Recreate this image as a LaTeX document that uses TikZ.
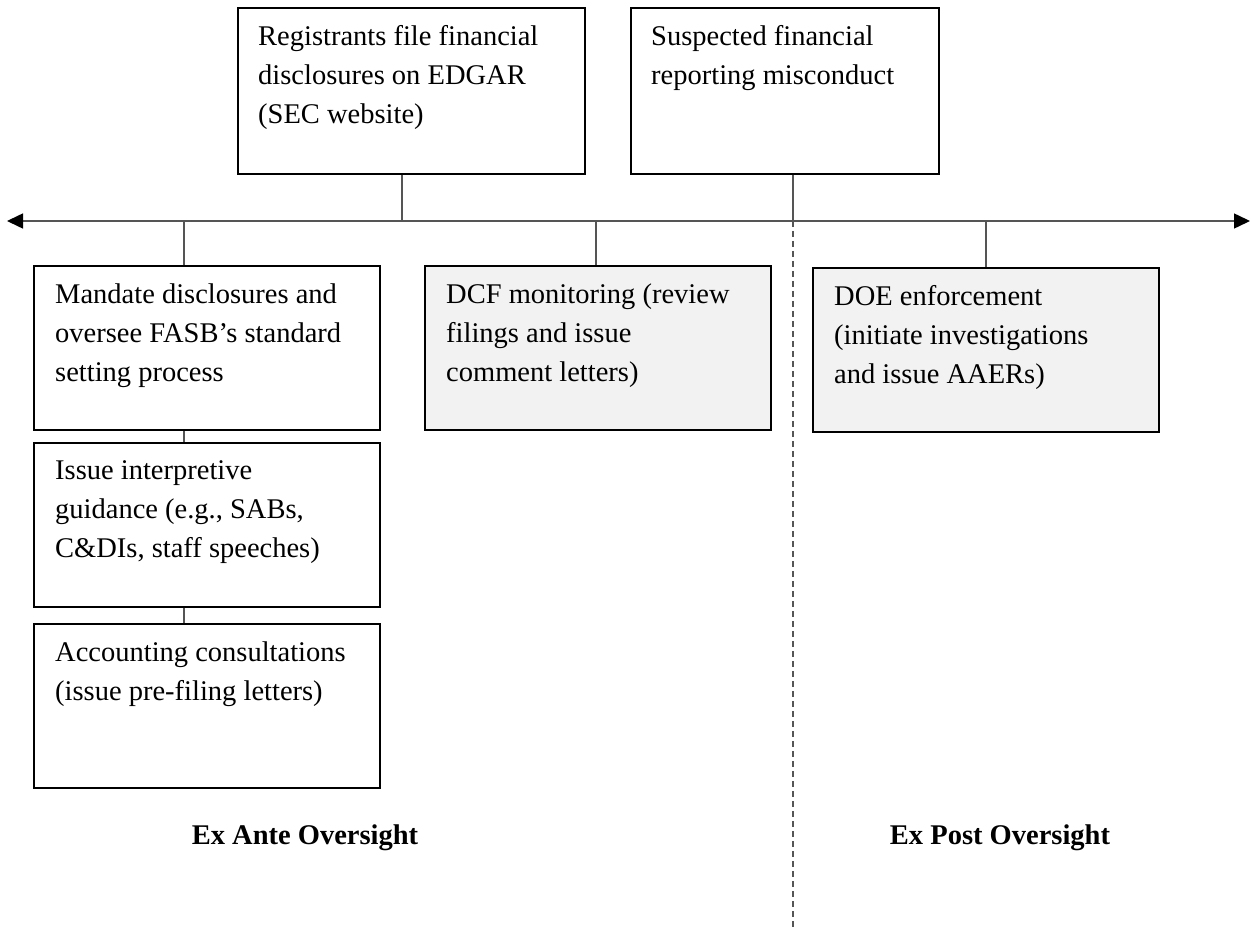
\documentclass[tikz,border=0pt]{standalone}
\usepackage{fontspec}
\setmainfont{Liberation Serif}
\usetikzlibrary{arrows.meta}
\definecolor{boxfill}{HTML}{F2F2F2}
\definecolor{linkgray}{HTML}{555555}

\begin{document}
\begin{tikzpicture}[x=1pt, y=1pt,
    box/.style={draw=black, line width=2pt, anchor=north west, inner sep=0pt,
        minimum width=346pt, minimum height=164pt},
    shaded/.style={box, fill=boxfill},
    txt/.style={anchor=north west, inner sep=0pt, align=left,
        font=\fontsize{28.5}{39}\selectfont},
    head/.style={font=\fontsize{28.5}{39}\selectfont\bfseries},
    link/.style={draw=linkgray, line width=1.5pt},
    split/.style={draw=linkgray, line width=1.3pt, dash pattern=on 6pt off 4pt}]
    \useasboundingbox (0,0) rectangle (1251,-928);

    \coordinate (axL) at (7,-221);
    \coordinate (axR) at (1250,-221);
    \coordinate (tReg) at (402,-221);
    \coordinate (tSus) at (793,-221);
    \coordinate (tMan) at (184,-221);
    \coordinate (tDcf) at (596,-221);
    \coordinate (tDoe) at (986,-221);
    \coordinate (tEnd) at (793,-928);

    % triggers
    \node[box, minimum width=347pt, minimum height=166pt] (reg) at (237,-7) {};
    \node[txt] (regtxt) at ([shift={(21,-18.5)}]reg.north west)
        {Registrants file financial\\disclosures on EDGAR\\(SEC website)};
    \node[box, minimum width=308pt, minimum height=166pt] (sus) at (630,-7) {};
    \node[txt] (sustxt) at ([shift={(21,-18.5)}]sus.north west)
        {Suspected financial\\reporting misconduct};

    % timeline
    \draw[link, {Triangle[length=16pt, width=15pt, color=black]}-{Triangle[length=16pt, width=15pt, color=black]}]
        (axL) -- (axR);
    \draw[link] (reg.south -| tReg) -- (tReg);
    \draw[link] (sus.south -| tSus) -- (tSus);
    \draw[split] (tSus) -- (tEnd);

    % ex ante
    \node[box] (man) at (33,-265) {};
    \node[txt] (mantxt) at ([shift={(22,-18.5)}]man.north west)
        {Mandate disclosures and\\oversee FASB’s standard\\setting process};
    \node[box] (gui) at (33,-442) {};
    \node[txt] (guitxt) at ([shift={(22,-18.5)}]gui.north west)
        {Issue interpretive\\guidance (e.g., SABs,\\C\&DIs, staff speeches)};
    \node[box] (con) at (33,-623) {};
    \node[txt] (contxt) at ([shift={(22,-18.5)}]con.north west)
        {Accounting consultations\\(issue pre-filing letters)};
    \node[shaded] (dcf) at (424,-265) {};
    \node[txt] (dcftxt) at ([shift={(22,-18.5)}]dcf.north west)
        {DCF monitoring (review\\filings and issue\\comment letters)};

    % ex post
    \node[shaded] (doe) at (812,-267) {};
    \node[txt] (doetxt) at ([shift={(22,-18.5)}]doe.north west)
        {DOE enforcement\\(initiate investigations\\and issue AAERs)};

    \draw[link] (tMan) -- (man.north -| tMan);
    \draw[link] (man.south -| tMan) -- (gui.north -| tMan);
    \draw[link] (gui.south -| tMan) -- (con.north -| tMan);
    \draw[link] (tDcf) -- (dcf.north -| tDcf);
    \draw[link] (tDoe) -- (doe.north -| tDoe);

    \node[head] (ante) at (305,-838) {Ex Ante Oversight};
    \node[head] (post) at (1000,-838) {Ex Post Oversight};
\end{tikzpicture}
\end{document}
